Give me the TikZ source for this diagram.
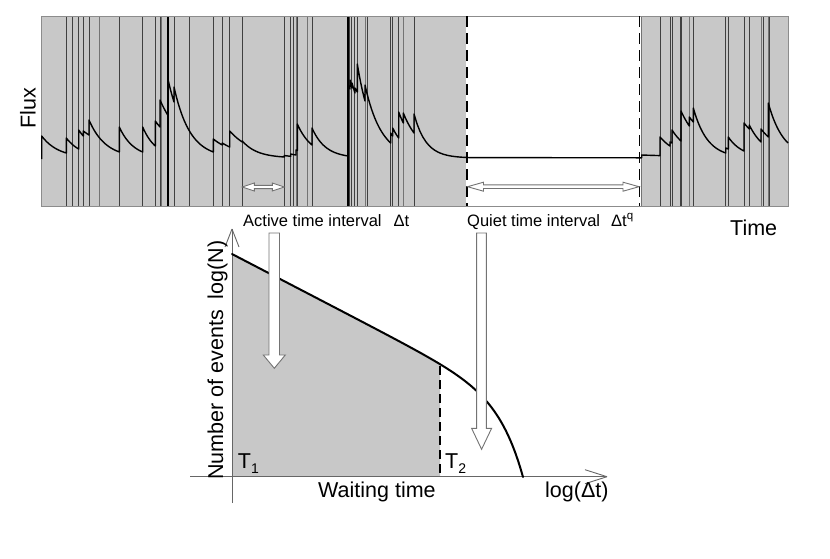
\documentclass[tikz,border=0pt]{standalone}
\usepackage{fontspec}
\setmainfont{Liberation Sans}
\begin{document}
\begin{tikzpicture}[x=1pt,y=-1pt,
  evt/.style={draw=black!75, line width=0.9pt},
  evtl/.style={draw=black!55, line width=0.9pt},
  evtb/.style={draw=black, line width=1.6pt},
  flux/.style={draw=black, line width=1.4pt, line join=round},
  hollow/.style={draw=black!55, fill=white, line width=0.9pt, line join=miter},
  axisline/.style={draw=black!60, line width=0.9pt},
  dashv/.style={draw=black, line width=1.5pt, dash pattern=on 11pt off 6pt},
  lbl/.style={font=\fontsize{21.5}{24}\selectfont, inner sep=0pt},
  slbl/.style={font=\fontsize{16.5}{19}\selectfont, inner sep=0pt}]
\definecolor{panelgray}{RGB}{200,200,200}
\useasboundingbox (0,0) rectangle (830,558);

% ---------------- top panel ----------------
\fill[panelgray] (41.7,16) rectangle (788,206);
\fill[white] (466,16) rectangle (641,206);
\foreach \xx in {41.7,66.3,72,78.7,83.3,89,119.3,142.7,155.3,160,174,189.7,213.3,222.3,229.7,242.3,
  284.3,290.7,293,297.3,312,349,351.7,354.7,357.3,367.3,390.7,392.7,398.7,414,
  660,670,672,680,681.7,693.3,725.7,728.3,744,749.3,763.3,769.3}
  \draw[evt] (\xx,16) -- (\xx,206);
\foreach \xx in {99,161,296,307.7,365,403.3,641.7,689.3,761,768.3}
  \draw[evtl] (\xx,16) -- (\xx,206);
\draw[evtb] (167.7,16) -- (167.7,206);
\draw[evtb] (348,16) -- (348,206);
\draw[draw=black!45, line width=0.8pt] (41.7,16) rectangle (788,206);

% flux curve
\draw[flux] (41.7,159)
  foreach \xa/\ya/\xb/\yb in {41.7/136/66.3/153, 66.3/138/78.7/149, 78.7/130/83.3/136,
    83.3/131/89/135, 89/120/119.3/152, 119.3/127/142.7/152, 142.7/127/155.3/146,
    155.3/121/160/127, 160/100/167.7/115, 167.7/78/174/102, 174/87/213.3/152,
    213.3/139/222.3/145, 222.3/143/229.7/147, 229.7/131/242.3/142, 242.3/141/284.3/157,
    284.3/155.5/290.7/156.3, 290.7/154/296/155, 296/150/297.3/150.5, 297.3/124/312/145,
    312/128/348/156, 348/85/350/89, 350/80/352/88, 352/83/355/93, 355/88/357.3/92,
    357.3/64/365/101, 365/85/390.7/143, 390.7/133/392.7/136, 392.7/128/398.7/138,
    398.7/112/403.3/123, 403.3/113/414/133, 414/114/470/157.6}
  { -- plot[domain=\xa:\xb, samples=20] (\x,{158-(158-\ya)*exp(ln((158-\yb)/(158-\ya))*(\x-\xa)/(\xb-\xa))}) }
  -- (641.7,157.8)
  foreach \xa/\ya/\xb/\yb in {641.7/155/660/155.6, 660/137/670/146, 670/142/672/143,
    672/130/681/141, 681/111/689.3/126, 689.3/117/693.3/122, 693.3/108/725.7/153,
    725.7/148/728.3/149, 728.3/137/744/151, 744/123/749.3/129, 749.3/125/761/142,
    761/129/768.3/137, 768.3/103/788/143}
  { -- plot[domain=\xa:\xb, samples=20] (\x,{158-(158-\ya)*exp(ln((158-\yb)/(158-\ya))*(\x-\xa)/(\xb-\xa))}) };

% quiet interval dashed borders
\draw[dashv] (467,16) -- (467,206);
\draw[dashv] (639.3,16) -- (639.3,206);

% hollow double arrows
\draw[hollow] (242.3,187) -- ++(12,-4) -- ++(0,2.4) -- (272.3,185.4) -- ++(0,-2.4) -- (284.3,187)
  -- ++(-12,4) -- ++(0,-2.4) -- (254.3,188.6) -- ++(0,2.4) -- cycle;
\draw[hollow] (467.5,186.7) -- ++(16,-4.5) -- ++(0,2.7) -- (623,184.9) -- ++(0,-2.7) -- (639,186.7)
  -- ++(-16,4.5) -- ++(0,-2.7) -- (483.5,188.5) -- ++(0,2.7) -- cycle;

% labels of top panel
\node[lbl, rotate=90, anchor=base] (flux) at (35.5,108) {Flux};
\node[slbl, anchor=base west] (active) at (243,226) {Active time interval\hspace{12pt}Δt};
\node[slbl, anchor=base west] (quiet) at (467,226) {Quiet time interval\hspace{11pt}Δt\textsuperscript{q}};
\node[lbl, anchor=base west] (time) at (730,235) {Time};

% ---------------- bottom chart ----------------
\fill[panelgray] (232,476.7) -- plot[domain=232:440, samples=60] (\x,{254+0.52*(\x-232)+71.7*exp((\x-523)/23.2)}) -- (440,476.7) -- cycle;
\draw[draw=black, line width=1.5pt, dash pattern=on 9pt off 5pt] (440,366) -- (440,476.7);

\coordinate (ybot) at (232,503);
\coordinate (ytip) at (232,229);
\coordinate (xleft) at (190,476.7);
\coordinate (xtip) at (607,476.7);
\draw[axisline] (ybot) -- (ytip);
\draw[axisline] (ytip) -- ++(-7,18) (ytip) -- ++(7,18);
\draw[axisline] (xleft) -- (xtip);
\draw[axisline] (xtip) -- ++(-22,-7) (xtip) -- ++(-22,7);

\draw[draw=black, line width=2pt, line cap=round] plot[domain=232:523, samples=120] (\x,{254+0.52*(\x-232)+71.7*exp((\x-523)/23.2)});

% hollow down arrows
\draw[hollow] (269,233) -- (269,355) -- (263.3,355) -- (274.3,368.3) -- (285.3,355) -- (279.5,355) -- (279.5,233) -- cycle;
\draw[hollow] (476.6,233) -- (476.6,428.3) -- (471.6,428.3) -- (481.6,449.3) -- (491.6,428.3) -- (486.4,428.3) -- (486.4,233) -- cycle;

% labels of bottom chart
\node[lbl, rotate=90, anchor=base west] (nev) at (223,480) {Number of events\hspace{11pt}log(N)};
\node[lbl, anchor=base west] (t1) at (237.7,468) {T{\fontsize{14}{14}\selectfont\raisebox{-5pt}{1}}};
\node[lbl, anchor=base west] (t2) at (445,468) {T{\fontsize{14}{14}\selectfont\raisebox{-5pt}{2}}};
\node[lbl, anchor=base west] (wait) at (318,497) {Waiting time};
\node[lbl, anchor=base west] (logdt) at (545,497) {log(Δt)};
\end{tikzpicture}
\end{document}
